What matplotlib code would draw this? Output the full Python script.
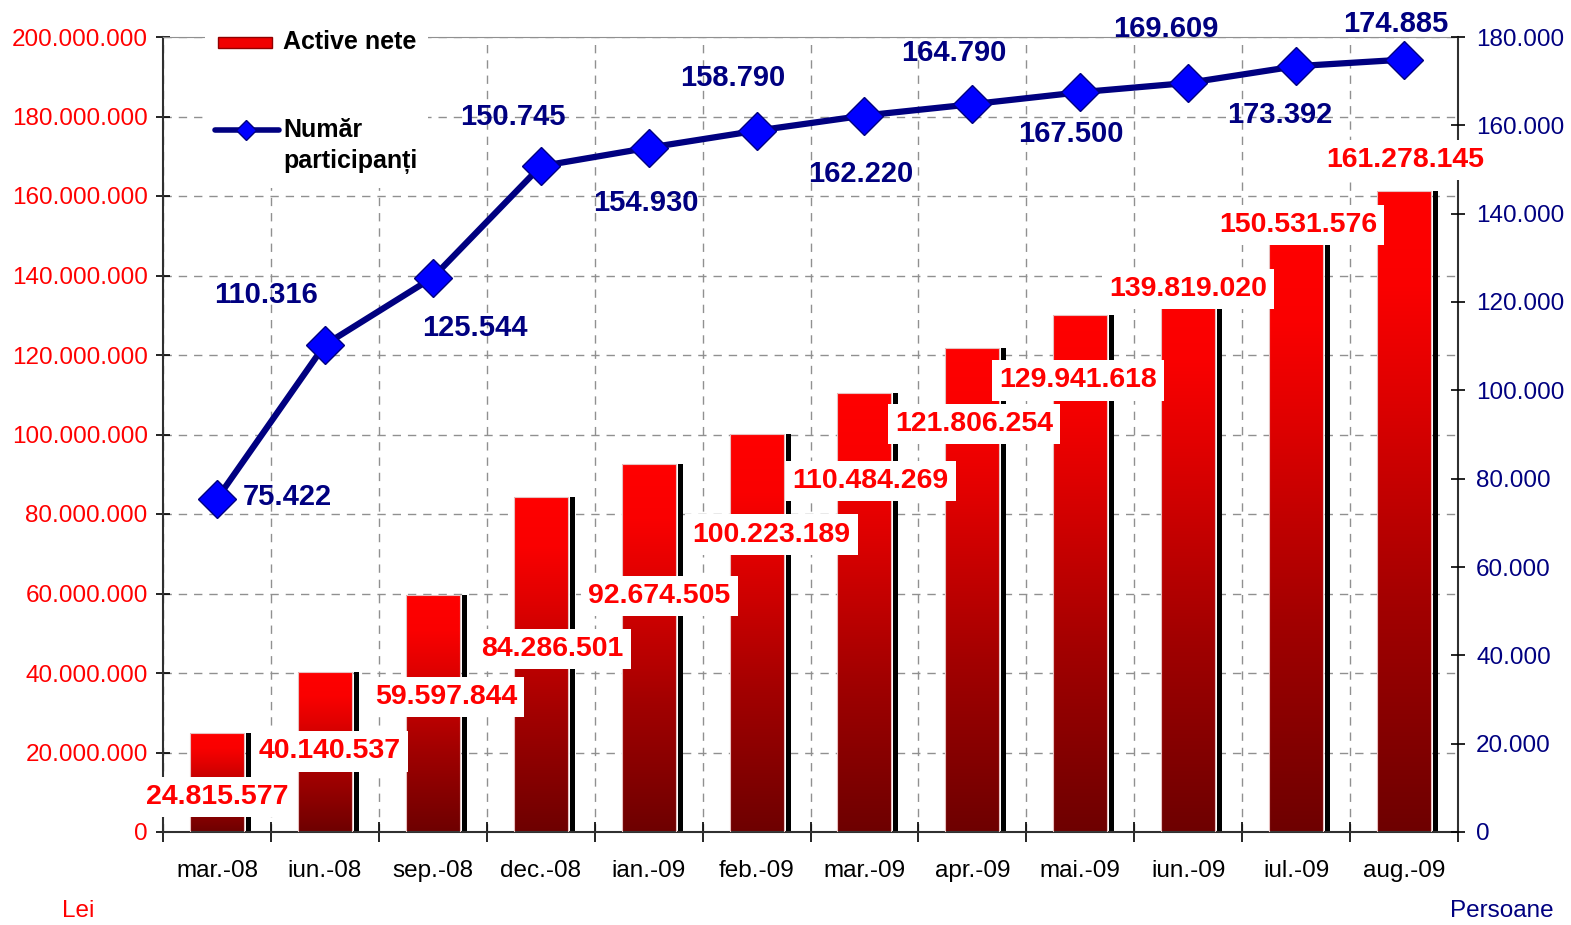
import numpy as np
import matplotlib
matplotlib.use("Agg")
import matplotlib.pyplot as plt
from matplotlib.colors import LinearSegmentedColormap
from matplotlib.lines import Line2D
from matplotlib.patches import Rectangle
from matplotlib.ticker import FuncFormatter, MultipleLocator

plt.rcParams["font.family"] = ["Liberation Sans", "DejaVu Sans"]

# --- data ---
categories = ["mar.-08", "iun.-08", "sep.-08", "dec.-08", "ian.-09", "feb.-09",
              "mar.-09", "apr.-09", "mai.-09", "iun.-09", "iul.-09", "aug.-09"]
active_nete = [24815577, 40140537, 59597844, 84286501, 92674505, 100223189,
               110484269, 121806254, 129941618, 139819020, 150531576, 161278145]
participanti = [75422, 110316, 125544, 150745, 154930, 158790,
                162220, 164790, 167500, 169609, 173392, 174885]

# label offsets in pixels (style only)
bar_label_off = [(0, -64), (5, -79), (13, -102), (12, -152), (11, -132), (15, -101),
                 (6, -88), (2, -76), (-2, -65), (0, -13), (2, 9), (1, 31)]
line_label_off = [(70, 2), (-59, 50), (42, -50), (-28, 49), (-3, -55), (-24, 53),
                  (-4, -58), (-19, 51), (-9, -42), (-22, 54), (-16, -49), (-8, 36)]

RED = "#FF0000"
NAVY = "#000080"
W, H = 1571, 925


def dots(v, _=None):
    return f"{int(v):,}".replace(",", ".")


def fx(px):
    return px / W


def fy(py):
    return 1 - py / H


fig = plt.figure(figsize=(W / 100, H / 100), dpi=100)
ax = fig.add_axes([fx(163), fy(832), fx(1458) - fx(163), fy(37) - fy(832)])
ax2 = ax.twinx()

x = np.arange(len(categories))

# --- bars with vertical gradient + black shadow ---
bar_cmap = LinearSegmentedColormap.from_list(
    "bar", [(0, "#6E0000"), (0.35, "#A20000"), (0.7, "#E20000"), (0.85, "#FA0000"), (1, "#FF0000")])
grad = np.linspace(0, 1, 256).reshape(-1, 1)
ax.bar(x + 0.292, active_nete, width=0.046, color="black", zorder=2)
bars = ax.bar(x, active_nete, width=0.5, color="none", edgecolor="#E8C0C0",
              linewidth=0.8, zorder=3)
for b in bars:
    x0, h, w = b.get_x(), b.get_height(), b.get_width()
    im = ax.imshow(grad, extent=[x0, x0 + w, 0, h], origin="lower", cmap=bar_cmap,
                   aspect="auto", zorder=2.5)
    im.set_clip_path(b)

ax.set_xlim(-0.5, len(categories) - 0.5)
ax.set_ylim(0, 200_000_000)
ax.yaxis.set_major_locator(MultipleLocator(20_000_000))
ax.yaxis.set_major_formatter(FuncFormatter(dots))
ax.tick_params(axis="y", colors="black", labelcolor=RED, labelsize=17.5,
               direction="inout", length=10, width=1.2, pad=6)
ax.set_xticks(x)
ax.set_xticklabels(categories)
ax.set_xticks(np.arange(-0.5, len(categories)), minor=True)
ax.tick_params(axis="x", which="major", length=0, labelsize=17.5, pad=20)
ax.tick_params(axis="x", which="minor", direction="inout", length=14, width=1.2)
ax.grid(axis="y", which="major", color="#909090", linestyle=(0, (6, 5)), linewidth=1)
ax.grid(axis="x", which="minor", color="#909090", linestyle=(0, (6, 5)), linewidth=1)
ax.set_axisbelow(True)
for s in ["left", "bottom", "right"]:
    ax.spines[s].set_color("#303030")
    ax.spines[s].set_linewidth(1.5)
ax.spines["top"].set_color("#909090")

# bar value labels
for xi, v, (dx, dy) in zip(x, active_nete, bar_label_off):
    ax2.annotate(dots(v), xy=(xi, v), xycoords=ax.transData, xytext=(dx, dy),
                 textcoords="offset pixels", ha="center", va="center",
                 fontsize=20.5, fontweight="bold", color=RED, zorder=6,
                 bbox=dict(boxstyle="square,pad=0.25", fc="white", ec="none"))

# --- line ---
ax2.plot(x, participanti, color=NAVY, lw=4.5, marker="D", ms=19,
         mfc="#0000FF", mec=NAVY, mew=1, zorder=5)
ax2.set_ylim(0, 180_000)
ax2.yaxis.set_major_locator(MultipleLocator(20_000))
ax2.yaxis.set_major_formatter(FuncFormatter(dots))
ax2.tick_params(axis="y", colors="black", labelcolor=NAVY, labelsize=17.5,
                direction="inout", length=10, width=1.2, pad=8)
for s in ax2.spines.values():
    s.set_visible(False)

for xi, v, (dx, dy) in zip(x, participanti, line_label_off):
    ax2.annotate(dots(v), xy=(xi, v), xytext=(dx, dy), textcoords="offset pixels",
                 ha="center", va="center", fontsize=21, fontweight="bold",
                 color=NAVY, zorder=6)

# --- legend (drawn by hand so the marker sits on the first text line) ---
fig.add_artist(Rectangle((fx(205), fy(188)), fx(428) - fx(205), fy(24) - fy(188),
                         transform=fig.transFigure, fc="white", ec="none", zorder=10))
fig.add_artist(Rectangle((fx(218), fy(48)), fx(272) - fx(218), fy(37) - fy(48),
                         transform=fig.transFigure, fc="#F00000", ec="#900000", zorder=11))
fig.add_artist(Line2D([fx(215), fx(279)], [fy(130), fy(130)], transform=fig.transFigure,
                      color=NAVY, lw=4, solid_capstyle="round", zorder=11))
fig.add_artist(Line2D([fx(246)], [fy(130)], transform=fig.transFigure, marker="D", ms=10,
                      mfc="#0000FF", mec=NAVY, zorder=12))
fig.text(fx(283), fy(42), "Active nete", fontsize=18, fontweight="bold",
         va="center", ha="left", zorder=12)
fig.text(fx(283), fy(130), "Număr", fontsize=18, fontweight="bold",
         va="center", ha="left", zorder=12)
fig.text(fx(283), fy(162), "participanți", fontsize=18, fontweight="bold",
         va="center", ha="left", zorder=12)

fig.text(fx(78), fy(911), "Lei", color=RED, fontsize=17.5, ha="center", va="center")
fig.text(fx(1502), fy(911), "Persoane", color=NAVY, fontsize=17.5,
         ha="center", va="center")

fig.savefig("out.png", dpi=100)
